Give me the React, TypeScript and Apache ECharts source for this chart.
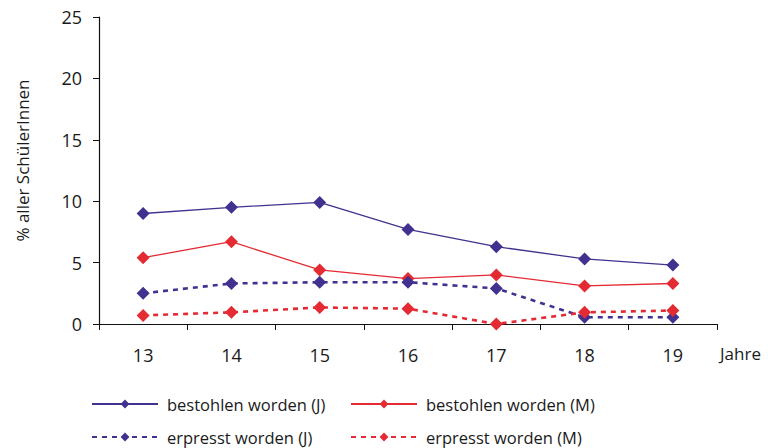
import React, { useEffect, useRef } from "react";
import * as echarts from "echarts";

const years = ["13", "14", "15", "16", "17", "18", "19"];
const bestohlenJ = [9.0, 9.5, 9.9, 7.7, 6.3, 5.3, 4.8];
const bestohlenM = [5.4, 6.7, 4.4, 3.7, 4.0, 3.1, 3.3];
const erpresstJ = [2.5, 3.3, 3.4, 3.4, 2.9, 0.55, 0.55];
const erpresstM = [0.7, 0.95, 1.35, 1.25, 0.0, 0.95, 1.1];

const seriesNames = [
  "bestohlen worden (J)",
  "bestohlen worden (M)",
  "erpresst worden (J)",
  "erpresst worden (M)",
];

const PURPLE = "#43318f";
const RED = "#e42b33";
const FONT = "Open Sans";

export default function App() {
  const ref = useRef<HTMLDivElement>(null);
  useEffect(() => {
    if (!ref.current) return;
    const chart = echarts.init(ref.current, undefined, { renderer: "svg" });
    const mk = (name: string, data: number[], color: string, dashed: boolean) => ({
      name,
      type: "line",
      data,
      symbol: "diamond",
      symbolSize: 13,
      itemStyle: { color },
      lineStyle: dashed
        ? { color, width: 2.6, type: [5, 5] }
        : { color, width: 1.3, type: "solid" },
      emphasis: { disabled: true },
    });
    const legendBase = {
      orient: "horizontal",
      padding: 0,
      itemWidth: 66,
      itemHeight: 11,
      itemGap: 8,
      textStyle: {
        fontFamily: FONT,
        fontSize: 16.5,
        color: "#1a1a1a",
        lineHeight: 20,
        padding: [0, 0, 0, 4],
      },
      selectedMode: false,
    };
    chart.setOption({
      animation: false,
      backgroundColor: "#ffffff",
      textStyle: { fontFamily: FONT },
      grid: { left: 99, right: 51, top: 17, bottom: 124 },
      legend: [
        { ...legendBase, data: [seriesNames[0]], left: 91, top: 394 },
        { ...legendBase, data: [seriesNames[1]], left: 350, top: 394 },
        { ...legendBase, data: [seriesNames[2]], left: 91, top: 427 },
        { ...legendBase, data: [seriesNames[3]], left: 350, top: 427 },
      ],
      xAxis: {
        type: "category",
        data: years,
        boundaryGap: true,
        axisLine: { lineStyle: { color: "#111", width: 1.2 } },
        axisTick: { show: true, length: 6, inside: false, lineStyle: { color: "#111" } },
        axisLabel: { fontFamily: FONT, fontSize: 18, color: "#1a1a1a", margin: 22 },
        name: "Jahre",
        nameLocation: "end",
        nameGap: 3,
        nameTextStyle: {
          fontFamily: FONT,
          fontSize: 17,
          color: "#1a1a1a",
          align: "left",
          verticalAlign: "top",
          padding: [21, 0, 0, 0],
        },
      },
      yAxis: {
        type: "value",
        min: 0,
        max: 25,
        interval: 5,
        splitLine: { show: false },
        axisLine: { show: true, lineStyle: { color: "#111", width: 1.2 } },
        axisTick: { show: true, length: 6, lineStyle: { color: "#111" } },
        axisLabel: { fontFamily: FONT, fontSize: 18, color: "#1a1a1a", margin: 17 },
        name: "% aller SchülerInnen",
        nameLocation: "middle",
        nameGap: 68,
        nameRotate: 90,
        nameTextStyle: { fontFamily: FONT, fontSize: 17, color: "#1a1a1a", padding: [0, 0, 0, 20] },
      },
      series: [
        mk(seriesNames[0], bestohlenJ, PURPLE, false),
        mk(seriesNames[1], bestohlenM, RED, false),
        mk(seriesNames[2], erpresstJ, PURPLE, true),
        mk(seriesNames[3], erpresstM, RED, true),
      ],
    });
    return () => chart.dispose();
  }, []);
  return <div ref={ref} style={{ width: 768, height: 448, position: "absolute", left: 0, top: 0 }} />;
}
